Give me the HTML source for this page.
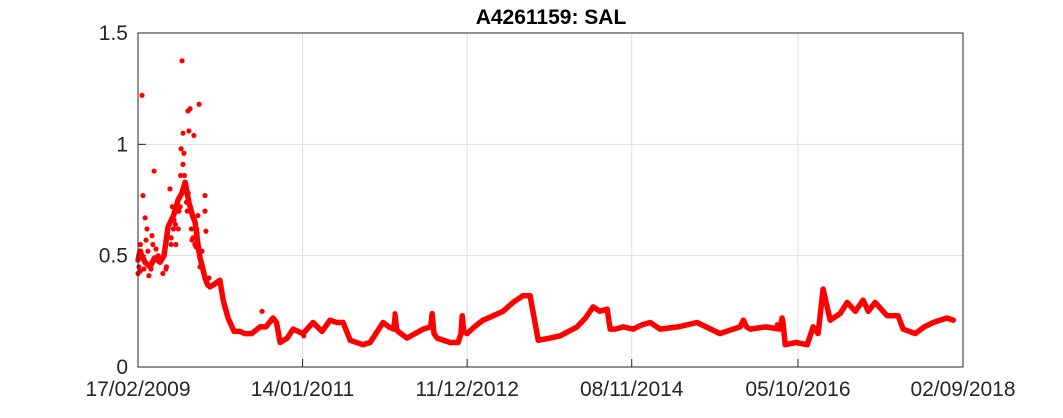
<!DOCTYPE html>
<html><head><meta charset="utf-8"><style>
body{margin:0;background:#fff;}
svg text{font-family:"Liberation Sans",sans-serif;}
</style></head><body>
<svg id="chart" width="1063" height="413" xmlns="http://www.w3.org/2000/svg"></svg>
<script>
// data (days since 17/02/2009, salinity)
const lineDays=[0,8,17,30,51,70,93,110,127,150,169,185,199,215,230,241,252,262,272,283,294,304,320,346,360,380,406,430,452,480,515,540,570,585,600,630,655,697,739,777,811,840,866,896,950,980,1035,1060,1080,1086,1092,1098,1136,1170,1204,1236,1242,1250,1263,1318,1352,1364,1369,1376,1390,1420,1457,1500,1542,1584,1626,1656,1690,1740,1783,1854,1890,1922,1951,1981,1994,2015,2050,2091,2130,2163,2205,2280,2361,2458,2513,2543,2556,2570,2585,2650,2712,2720,2724,2733,2780,2826,2851,2872,2893,2923,2965,2995,3029,3062,3084,3113,3164,3210,3231,3282,3320,3358,3417,3443];
const lineVals=[0.48,0.52,0.5,0.47,0.45,0.49,0.47,0.5,0.63,0.68,0.75,0.78,0.83,0.74,0.68,0.65,0.56,0.49,0.45,0.40,0.37,0.36,0.37,0.39,0.30,0.22,0.16,0.16,0.15,0.15,0.18,0.18,0.22,0.2,0.11,0.13,0.17,0.15,0.20,0.16,0.21,0.20,0.20,0.12,0.10,0.11,0.20,0.18,0.17,0.23,0.17,0.16,0.13,0.15,0.17,0.18,0.24,0.15,0.13,0.11,0.11,0.15,0.23,0.16,0.15,0.18,0.21,0.23,0.25,0.29,0.32,0.32,0.12,0.13,0.14,0.18,0.22,0.27,0.25,0.26,0.17,0.17,0.18,0.17,0.19,0.20,0.17,0.18,0.20,0.15,0.17,0.18,0.21,0.18,0.17,0.18,0.17,0.22,0.20,0.10,0.11,0.10,0.18,0.15,0.35,0.21,0.24,0.29,0.25,0.30,0.25,0.29,0.23,0.23,0.17,0.15,0.18,0.20,0.22,0.21];
const dotDays=[17,186,211,220,258,190,215,236,194,182,190,68,21,135,283,283,287,30,38,59,63,8,12,46,76,105,118,152,160,173,228,245,266,270,524,700,1085,2700,4,10,25,34,42,55,85,98,112,120,140,145,158,165,178,180,196,205,212,225,232,240,250,256,262,275,290,300,140,150,170,200,208,248,253,0];
const dotVals=[1.22,1.375,1.15,1.16,1.18,1.05,1.06,1.04,0.96,0.98,0.91,0.88,0.77,0.80,0.77,0.70,0.61,0.67,0.62,0.59,0.55,0.43,0.52,0.41,0.53,0.42,0.44,0.66,0.55,0.70,0.57,0.54,0.45,0.52,0.25,0.14,0.24,0.19,0.45,0.55,0.44,0.57,0.52,0.44,0.5,0.48,0.52,0.45,0.58,0.72,0.64,0.70,0.72,0.86,0.86,0.74,0.78,0.62,0.58,0.55,0.60,0.52,0.45,0.43,0.38,0.4,0.55,0.62,0.62,0.8,0.7,0.62,0.68,0.42];
const xTickDays=[0,695,1390,2085,2787,3484];
const xTickLabels=["17/02/2009","14/01/2011","11/12/2012","08/11/2014","05/10/2016","02/09/2018"];
const yTicks=[0,0.5,1,1.5];

const L=138,R=963,T=33,B=367,XMAX=3484,YMAX=1.5;
const sx=d=>L+d/XMAX*(R-L), sy=v=>B-v/YMAX*(B-T);
const svg=document.getElementById('chart');
const NS='http://www.w3.org/2000/svg';
function mk(tag,attrs,parent){const e=document.createElementNS(NS,tag);for(const k in attrs)e.setAttribute(k,attrs[k]);(parent||svg).appendChild(e);return e;}

xTickDays.forEach((d,i)=>{
 const g=mk('line',{x1:sx(d),x2:sx(d),y1:T,y2:B,stroke:'#dedede','stroke-width':1});
 
 
 const t=mk('line',{x1:sx(d),x2:sx(d),y1:B,y2:B-8,stroke:'#262626'});
 
 
 const tx=mk('text',{x:sx(d),y:396,'font-size':21,'text-anchor':'middle',fill:'#262626'});
 tx.textContent=xTickLabels[i];
 
 
});
yTicks.forEach(v=>{
 const g=mk('line',{x1:L,x2:R,y1:sy(v),y2:sy(v),stroke:'#dedede','stroke-width':1});
 
 
 const t=mk('line',{x1:L,x2:L+8,y1:sy(v),y2:sy(v),stroke:'#262626'});
 
 
 const tx=mk('text',{x:128,y:sy(v)+7,'font-size':21,'text-anchor':'end',fill:'#262626'});
 tx.textContent=String(v);
 
 
});
const pts=lineDays.map((d,i)=>sx(d).toFixed(1)+','+sy(lineVals[i]).toFixed(1)).join(' ');
const pl=mk('polyline',{points:pts,fill:'none',stroke:'#ff0000','stroke-width':5.5,'stroke-linejoin':'round','stroke-linecap':'round'});


dotDays.forEach((d,i)=>{
 const c=mk('circle',{cx:sx(d),cy:sy(dotVals[i]),r:2.6,fill:'#ff0000'});
 
 
});
const box=mk('rect',{x:L,y:T,width:R-L,height:B-T,fill:'none',stroke:'#262626','stroke-width':1});


const title=mk('text',{x:551,y:24,'font-size':21,'font-weight':'bold','text-anchor':'middle',fill:'#000'});
title.textContent='A4261159: SAL';


</script>
</body></html>
